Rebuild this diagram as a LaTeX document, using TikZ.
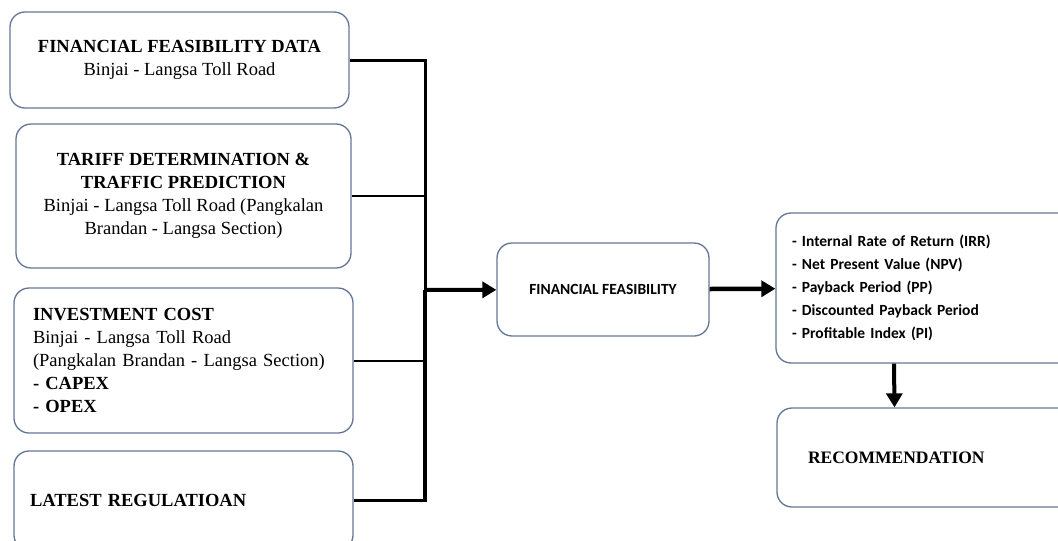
\documentclass[tikz,border=0pt]{standalone}
\usepackage{fontspec}
\setmainfont{Liberation Serif}
\newfontfamily\calibri{Carlito}
\usetikzlibrary{arrows.meta}
\definecolor{edge}{RGB}{98, 118, 152}

\begin{document}
\begin{tikzpicture}[x=1pt, y=-1pt,
   inbox/.style={rectangle, rounded corners=15, draw=edge, line width=1.3, align=center,
                 inner sep=0, font=\fontsize{18.5}{23}\selectfont},
   leftbox/.style={inbox, align=left, inner xsep=19, inner ysep=0},
   calbox/.style={inbox, font=\calibri\bfseries\fontsize{15.5}{23}\selectfont},
   flow/.style={line width=4, -{Triangle[length=14pt, width=16pt]}}
  ]
  \useasboundingbox (0, 0) rectangle (1058, 541);

  % inputs on the left
  \node (data) at (179.5, 60) [inbox, minimum width=339, minimum height=96]
    {\textbf{FINANCIAL FEASIBILITY DATA}\\Binjai - Langsa Toll Road};
  \node (tariff) at (183.5, 196) [inbox, minimum width=335, minimum height=144]
    {\textbf{TARIFF DETERMINATION \&}\\\textbf{TRAFFIC PREDICTION}\\
     Binjai - Langsa Toll Road (Pangkalan\\Brandan - Langsa Section)};
  \node (invest) at (183.5, 360.5) [leftbox, text width=301, minimum height=145]
    {\textbf{INVESTMENT COST}\\Binjai - Langsa Toll Road\\
     (Pangkalan Brandan - Langsa Section)\\\textbf{- CAPEX}\\\textbf{- OPEX}};
  \node (reg) at (183.5, 500.5) [leftbox, inner xsep=16, text width=307, minimum height=99]
    {\textbf{LATEST REGULATIOAN}};

  % analysis and output
  \node (feas) at (603, 289.5) [calbox, minimum width=212, minimum height=93]
    {FINANCIAL FEASIBILITY};
  \node (metrics) at (925.5, 288) [calbox, align=left, inner xsep=16, text width=267,
                                    minimum height=150]
    {- Internal Rate of Return (IRR)\\- Net Present Value (NPV)\\- Payback Period (PP)\\
     - Discounted Payback Period\\- Profitable Index (PI)};
  \node (recom) at (926, 457.5) [leftbox, inner xsep=31, text width=236, minimum height=99]
    {\textbf{\fontsize{17.5}{21}\selectfont RECOMMENDATION}};

  \coordinate (join) at (425, 290);

  \draw[line width=3] (data.east) -| (join);
  \draw[line width=3.5] (reg.east) -| (join);
  \foreach \B in {tariff, invest} {
    \draw[line width=2] (\B.east) -- (\B.east -| join);
  }

  \draw[flow] (join) -- (feas);
  \draw[flow, line width=4.5] (feas) -- (metrics);
  \draw[flow] ([xshift=-31.5]metrics.south) -- ([xshift=-31.5]recom.north);

\end{tikzpicture}
\end{document}
